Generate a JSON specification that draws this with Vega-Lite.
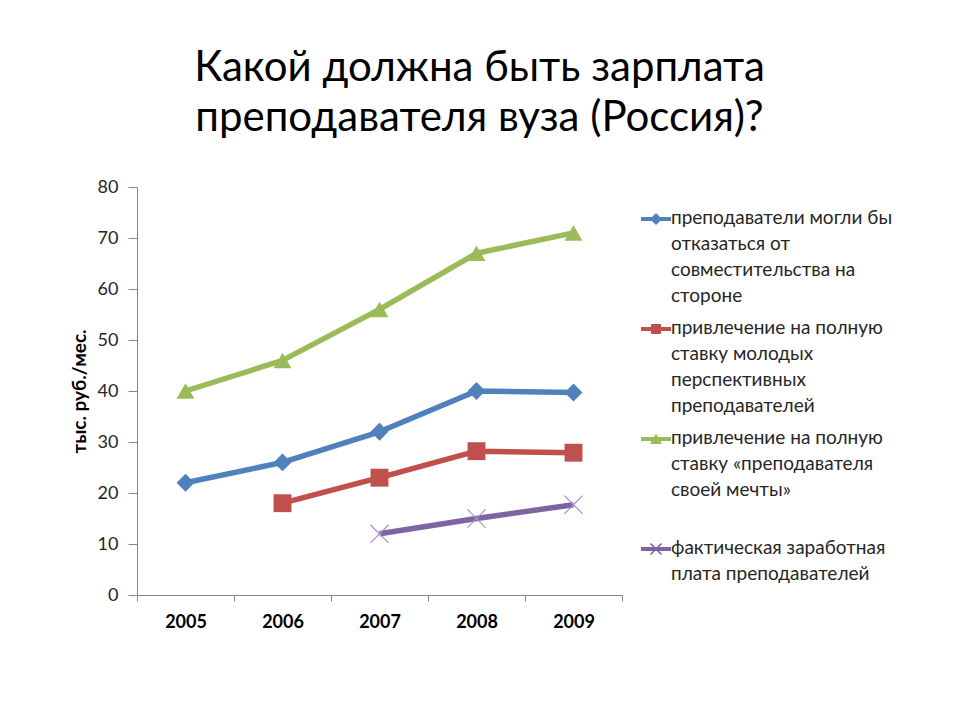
{
  "$schema": "https://vega.github.io/schema/vega-lite/v6.json",
  "width": 485,
  "height": 408,
  "autosize": "none",
  "padding": {"left": 137, "top": 187, "right": 338, "bottom": 125},
  "background": "white",
  "config": {
    "font": "Lato",
    "view": {"stroke": null},
    "style": {"guide-label": {"lineHeight": 26}}
  },
  "title": {
    "text": ["Какой должна быть зарплата", "преподавателя вуза (Россия)?"],
    "font": "Lato",
    "fontSize": 42,
    "fontWeight": "normal",
    "color": "#000000",
    "anchor": "middle",
    "frame": "group",
    "dx": 100,
    "lineHeight": 50,
    "offset": 38
  },
  "data": {
    "values": [
      {"year": "2005", "value": 22, "series": "преподаватели могли бы отказаться от совместительства на стороне"},
      {"year": "2006", "value": 26, "series": "преподаватели могли бы отказаться от совместительства на стороне"},
      {"year": "2007", "value": 32, "series": "преподаватели могли бы отказаться от совместительства на стороне"},
      {"year": "2008", "value": 40, "series": "преподаватели могли бы отказаться от совместительства на стороне"},
      {"year": "2009", "value": 39.7, "series": "преподаватели могли бы отказаться от совместительства на стороне"},
      {"year": "2006", "value": 18, "series": "привлечение на полную ставку молодых перспективных преподавателей"},
      {"year": "2007", "value": 23, "series": "привлечение на полную ставку молодых перспективных преподавателей"},
      {"year": "2008", "value": 28.2, "series": "привлечение на полную ставку молодых перспективных преподавателей"},
      {"year": "2009", "value": 27.9, "series": "привлечение на полную ставку молодых перспективных преподавателей"},
      {"year": "2005", "value": 40, "series": "привлечение на полную ставку «преподавателя своей мечты»"},
      {"year": "2006", "value": 46, "series": "привлечение на полную ставку «преподавателя своей мечты»"},
      {"year": "2007", "value": 56, "series": "привлечение на полную ставку «преподавателя своей мечты»"},
      {"year": "2008", "value": 67, "series": "привлечение на полную ставку «преподавателя своей мечты»"},
      {"year": "2009", "value": 71, "series": "привлечение на полную ставку «преподавателя своей мечты»"},
      {"year": "2007", "value": 12, "series": "фактическая заработная плата преподавателей"},
      {"year": "2008", "value": 15, "series": "фактическая заработная плата преподавателей"},
      {"year": "2009", "value": 17.7, "series": "фактическая заработная плата преподавателей"}
    ]
  },
  "encoding": {
    "x": {
      "field": "year",
      "type": "ordinal",
      "bandPosition": 0.5,
      "scale": {"type": "band", "paddingInner": 0, "paddingOuter": 0},
      "axis": {
        "title": null,
        "labelAngle": 0,
        "labelFontSize": 18,
        "labelFontWeight": "bold",
        "labelColor": "#000000",
        "labelPadding": 12,
        "tickBand": "extent",
        "tickSize": 6,
        "tickColor": "#868686",
        "domainColor": "#868686",
        "grid": false
      }
    },
    "y": {
      "field": "value",
      "type": "quantitative",
      "scale": {"domain": [0, 80], "nice": false},
      "axis": {
        "title": "тыс. руб./мес.",
        "titleFontSize": 19,
        "titleFontWeight": "bold",
        "titleColor": "#000000",
        "titlePadding": 8,
        "values": [0, 10, 20, 30, 40, 50, 60, 70, 80],
        "labelFontSize": 18,
        "labelColor": "#262626",
        "labelPadding": 10,
        "tickSize": 9,
        "tickColor": "#868686",
        "domainColor": "#868686",
        "grid": false
      }
    }
  },
  "layer": [
    {
      "mark": {"type": "line", "strokeWidth": 5.5, "strokeJoin": "round"},
      "encoding": {
        "stroke": {
          "field": "series",
          "type": "nominal",
          "legend": null,
          "scale": {
            "domain": [
              "преподаватели могли бы отказаться от совместительства на стороне",
              "привлечение на полную ставку молодых перспективных преподавателей",
              "привлечение на полную ставку «преподавателя своей мечты»",
              "фактическая заработная плата преподавателей"
            ],
            "range": ["#4F81BD", "#C0504D", "#9BBB59", "#8064A2"]
          }
        }
      }
    },
    {
      "transform": [{"filter": "datum.series != 'фактическая заработная плата преподавателей'"}],
      "mark": {"type": "point", "filled": true, "opacity": 1, "size": 320},
      "encoding": {
        "fill": {
          "field": "series",
          "type": "nominal",
          "legend": null,
          "scale": {
            "domain": [
              "преподаватели могли бы отказаться от совместительства на стороне",
              "привлечение на полную ставку молодых перспективных преподавателей",
              "привлечение на полную ставку «преподавателя своей мечты»"
            ],
            "range": ["#4F81BD", "#C0504D", "#9BBB59"]
          }
        },
        "shape": {
          "field": "series",
          "type": "nominal",
          "legend": null,
          "scale": {
            "domain": [
              "преподаватели могли бы отказаться от совместительства на стороне",
              "привлечение на полную ставку молодых перспективных преподавателей",
              "привлечение на полную ставку «преподавателя своей мечты»"
            ],
            "range": ["diamond", "square", "triangle-up"]
          }
        }
      }
    },
    {
      "transform": [{"filter": "datum.series == 'фактическая заработная плата преподавателей'"}],
      "mark": {
        "type": "point",
        "shape": "M-1,-1L1,1M-1,1L1,-1",
        "filled": false,
        "stroke": "#A393C2",
        "strokeWidth": 1.2,
        "opacity": 1,
        "size": 330
      }
    },
    {
      "transform": [{"filter": "false"}],
      "mark": {"type": "point", "filled": true, "opacity": 1},
      "encoding": {
        "color": {
          "field": "series",
          "type": "nominal",
          "scale": {
            "domain": [
              "преподаватели могли бы отказаться от совместительства на стороне",
              "привлечение на полную ставку молодых перспективных преподавателей",
              "привлечение на полную ставку «преподавателя своей мечты»",
              "фактическая заработная плата преподавателей"
            ],
            "range": ["#4F81BD", "#C0504D", "#9BBB59", "#8064A2"]
          },
          "legend": {
            "title": null,
            "orient": "none",
            "legendX": 509,
            "legendY": 12,
            "padding": 0,
            "symbolSize": 400,
            "symbolStrokeWidth": 0,
            "labelFont": "Lato",
            "labelFontSize": 19,
            "labelColor": "#262626",
            "labelLimit": 400,
            "labelOffset": 5,
            "labelBaseline": "top",
            "rowPadding": 3,
            "labelExpr": "datum.label == 'преподаватели могли бы отказаться от совместительства на стороне' ? ['преподаватели могли бы', 'отказаться от', 'совместительства на', 'стороне'] : datum.label == 'привлечение на полную ставку молодых перспективных преподавателей' ? ['привлечение на полную', 'ставку молодых', 'перспективных', 'преподавателей'] : datum.label == 'привлечение на полную ставку «преподавателя своей мечты»' ? ['привлечение на полную', 'ставку «преподавателя', 'своей мечты»', ' '] : ['фактическая заработная', 'плата преподавателей']"
          }
        },
        "shape": {
          "field": "series",
          "type": "nominal",
          "scale": {
            "domain": [
              "преподаватели могли бы отказаться от совместительства на стороне",
              "привлечение на полную ставку молодых перспективных преподавателей",
              "привлечение на полную ставку «преподавателя своей мечты»",
              "фактическая заработная плата преподавателей"
            ],
            "range": [
              "M-1.5,0.8H1.5V1.2H-1.5Z M0,0.4L0.6,1L0,1.6L-0.6,1Z",
              "M-1.5,0.8H1.5V1.2H-1.5Z M-0.5,0.5H0.5V1.5H-0.5Z",
              "M-1.5,0.8H1.5V1.2H-1.5Z M0,0.45L0.6,1.5H-0.6Z",
              "M-1.5,0.8H1.5V1.2H-1.5Z M-0.493,0.393L0.607,1.493L0.493,1.607L-0.607,0.507Z M0.607,0.507L-0.493,1.607L-0.607,1.493L0.493,0.393Z"
            ]
          }
        }
      }
    }
  ],
  "resolve": {"scale": {"shape": "independent", "color": "independent"}}
}
